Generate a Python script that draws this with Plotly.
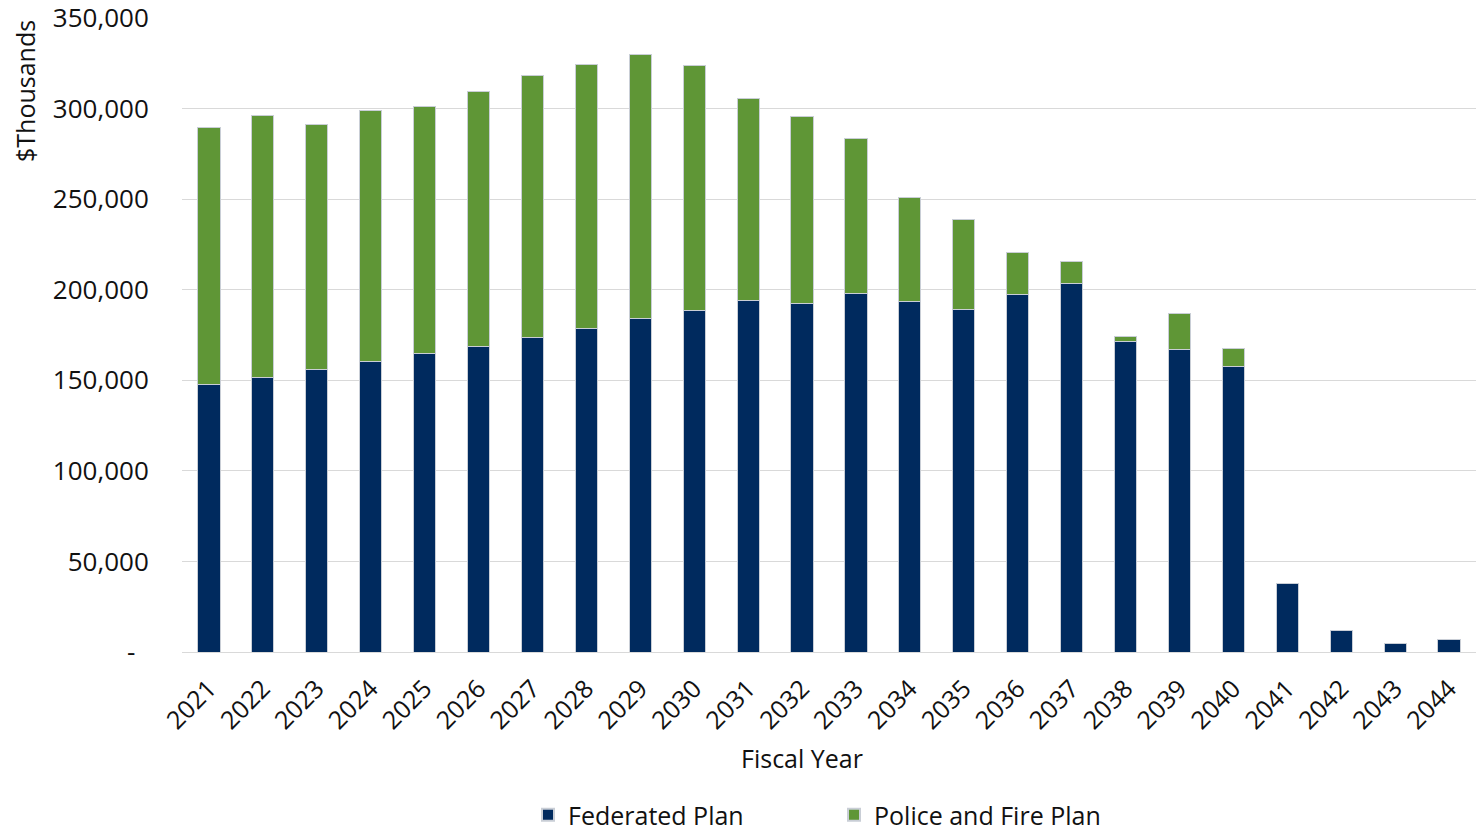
import plotly.graph_objects as go

years = [str(y) for y in range(2021, 2045)]
federated = [147900, 151700, 156100, 160600, 165000, 168800, 173800, 178800,
             184300, 188700, 194200, 192600, 198100, 193700, 189300, 197600,
             203600, 171600, 167200, 157400, 37800, 12000, 4600, 6900]
police_fire = [141400, 144700, 135300, 138100, 136400, 140800, 144200, 145300,
               145300, 135300, 111600, 103300, 85600, 57400, 49200, 23200,
               12150, 2600, 19900, 10300, 0, 0, 0, 0]
tick_vals = [0, 50000, 100000, 150000, 200000, 250000, 300000, 350000]
tick_text = ["-\u00a0\u00a0", "50,000", "100,000", "150,000", "200,000",
             "250,000", "300,000", "350,000"]

FONT = "Open Sans"
TXT = "#111111"

L, R, T, B = 182, 0, 18, 180
W, H = 1476, 832
plot_w = W - L - R
plot_h = H - T - B

fig = go.Figure()
fig.add_trace(go.Bar(x=years, y=federated, name="Federated Plan",
                     marker=dict(color="#002A5E", line=dict(color="#c9ced6", width=1))))
fig.add_trace(go.Bar(x=years, y=police_fire, name="Police and Fire Plan",
                     marker=dict(color="#5F9636", line=dict(color="#c9ced6", width=1))))

fig.update_layout(
    width=W, height=H,
    barmode="stack", bargap=0.59,
    plot_bgcolor="white", paper_bgcolor="white",
    margin=dict(l=L, r=R, t=T, b=B, autoexpand=False),
    font=dict(family=FONT, color=TXT, size=24),
    showlegend=True,
    legend=dict(orientation="h", x=0.5 + 5 / plot_w, xanchor="center",
                y=1 - 815 / H, yref="container", yanchor="middle",
                font=dict(size=25), entrywidth=261, entrywidthmode="pixels",
                itemsizing="constant", traceorder="normal"),
    xaxis=dict(tickangle=-45, tickfont=dict(size=25), showgrid=False,
               showline=False, ticks="outside", ticklen=11,
               tickcolor="rgba(0,0,0,0)", zeroline=False, automargin=False),
    yaxis=dict(range=[0, 350000], tickvals=tick_vals, ticktext=tick_text,
               tickfont=dict(size=26), showgrid=True, gridcolor="#d9d9d9", gridwidth=1,
               zeroline=True, zerolinecolor="#d9d9d9", zerolinewidth=1,
               ticks="outside", ticklen=27, tickcolor="rgba(0,0,0,0)",
               showline=False, automargin=False, ticklabeloverflow="allow"),
    annotations=[
        dict(text="Fiscal Year", x=(802 - L) / plot_w, y=-(758 - (H - B)) / plot_h,
             xref="paper", yref="paper", showarrow=False, font=dict(size=25),
             xanchor="center", yanchor="middle"),
        dict(text="$Thousands", x=(25 - L) / plot_w, y=1.0 + (T - 18) / plot_h,
             xref="paper", yref="paper", showarrow=False, font=dict(size=25),
             textangle=-90, xanchor="center", yanchor="top"),
    ],
)

fig.write_html("out.html")
